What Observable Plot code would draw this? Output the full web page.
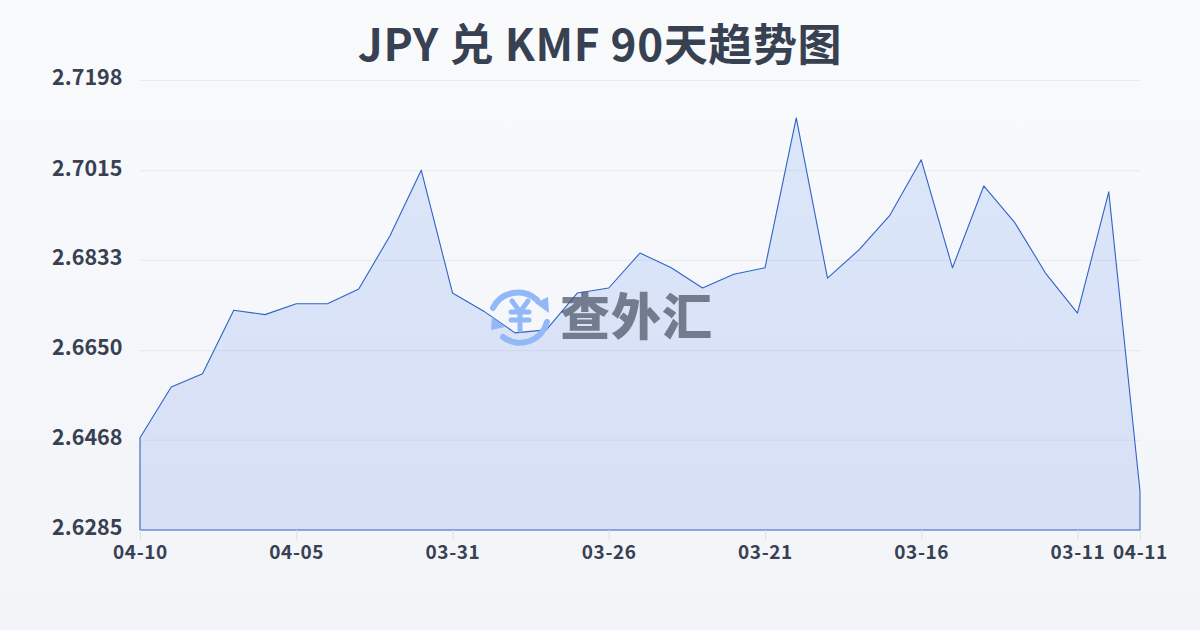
<!DOCTYPE html>
<html><head><meta charset="utf-8">
<script src="https://cdn.jsdelivr.net/npm/d3@7"></script>
<script src="https://cdn.jsdelivr.net/npm/@observablehq/plot@0.6"></script>
<style>
html,body{margin:0;padding:0}
body{width:1200px;height:630px;overflow:hidden;position:relative;background:linear-gradient(180deg,#f8fafc,#f2f4f8);font-family:"Noto Sans CJK SC",sans-serif}
#title{height:60px;line-height:85px;text-align:center;font-size:44px;font-weight:700;color:#374151;white-space:pre;letter-spacing:.6px}
#chart svg{display:block;background:transparent}
#chart svg [aria-label="x-axis tick label"] text{letter-spacing:.6px}
#mark{position:absolute;left:488px;top:284px;width:64px;height:62px;}
#wm{position:absolute;left:560px;top:280px;font-size:50px;line-height:66px;font-weight:900;color:rgba(75,85,99,.72);font-family:"Noto Sans CJK SC",sans-serif;letter-spacing:1px}
</style></head><body>
<div id="title">JPY 兑 KMF 90天趋势图</div>
<div id="chart"></div>
<div id="wm">查外汇</div>
<svg id="mark" viewBox="0 0 64 62" fill="none">
<g stroke="#93b8f8" stroke-width="6" fill="none" stroke-linecap="round">
<path d="M5 24 A28 28 0 0 1 49 16" />
<path d="M59 38 A28 28 0 0 1 15 53" />
</g>
<path d="M47 19 L60 13 L61 29 Z" fill="#93b8f8"/>
<path d="M4 33 L17 43 L3 46 Z" fill="#93b8f8"/>
<g stroke="#93b8f8" stroke-width="5" fill="none" stroke-linecap="round">
<path d="M24 17 L32 28 L40 17"/><path d="M32 28 V46"/><path d="M23 28 H41"/><path d="M23 36 H41"/>
</g>
</svg>
<script>
const dates = ["04-10","04-09","04-08","04-07","04-06","04-05","04-04","04-03","04-02","04-01","03-31","03-30","03-29","03-28","03-27","03-26","03-25","03-24","03-23","03-22","03-21","03-20","03-19","03-18","03-17","03-16","03-15","03-14","03-13","03-12","03-11","03-10","04-11"];
const rates = [2.6472,2.6575,2.6602,2.6731,2.6722,2.6744,2.6744,2.6774,2.6882,2.7015,2.6766,2.6729,2.6685,2.6691,2.6766,2.6776,2.6847,2.6817,2.6776,2.6804,2.6817,2.7121,2.6796,2.6853,2.6924,2.7036,2.6817,2.6983,2.6908,2.6804,2.6725,2.6971,2.6364];
const yTicks = [2.6285,2.6468,2.6650,2.6833,2.7015,2.7198];
const xTicks = ["04-10","04-05","03-31","03-26","03-21","03-16","03-11","04-11"];
const table = dates.map((d,i)=>({d,v:rates[i]}));
const base = yTicks[0];
const gradient = () => {
  const s = d3.create("svg:defs");
  const g = s.append("linearGradient").attr("id","areaFill").attr("x1",0).attr("y1",0).attr("x2",0).attr("y2",1);
  g.append("stop").attr("offset","0%").attr("stop-color","#dce6f9");
  g.append("stop").attr("offset","100%").attr("stop-color","#d7e0f5");
  return s.node();
};
const chart = Plot.plot({
  width:1200,height:570,
  marginLeft:140,marginRight:60,marginTop:20,marginBottom:100,
  style:{background:"transparent",fontFamily:'"Noto Sans CJK SC",sans-serif'},
  x:{type:"point",domain:dates,padding:0,round:false,label:null},
  y:{domain:[yTicks[0],yTicks[5]],label:null},
  marks:[
    gradient,
    Plot.areaY(table,{x:"d",y1:()=>base,y2:"v",fill:"url(#areaFill)",stroke:"#2f63c8",strokeWidth:1.1,curve:"linear"}),
    Plot.ruleY(yTicks,{stroke:"#94a3b8",strokeOpacity:.16,strokeWidth:1}),
    Plot.axisY({ticks:yTicks,tickFormat:d=>d.toFixed(4),tickSize:0,tickPadding:18,dy:-2,fontSize:21.5,fontWeight:700,fill:"#374151",label:null}),
    Plot.axisX({ticks:xTicks,tickSize:10,tickPadding:5,fontSize:19,fontWeight:700,fill:"#374151",stroke:"#dbe1e9",label:null})
  ]
});
document.getElementById("chart").append(chart);
</script>
</body></html>
